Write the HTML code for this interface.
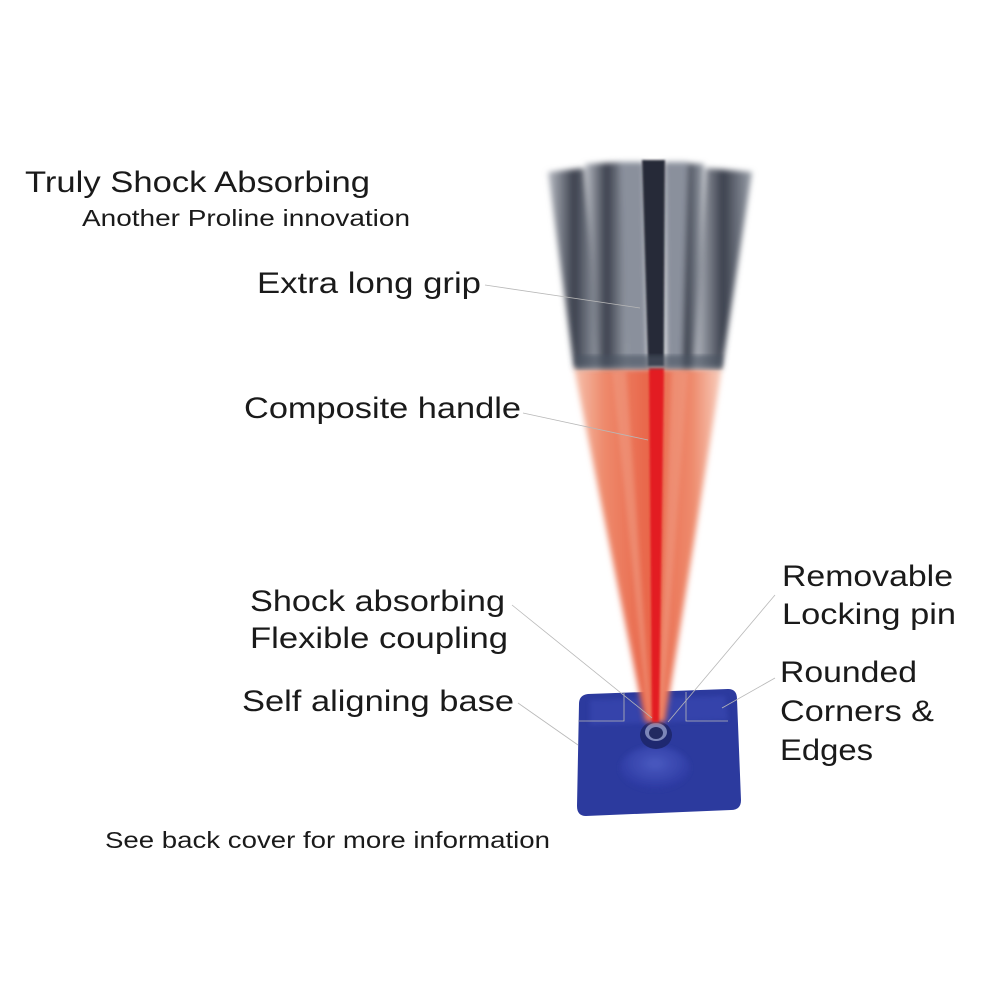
<!DOCTYPE html>
<html><head><meta charset="utf-8">
<style>
html,body{margin:0;padding:0;background:#fff;}
svg{display:block;}
text{font-family:"Liberation Sans",sans-serif;fill:#1a1a1a;}
</style></head>
<body>
<svg width="1000" height="1000" viewBox="0 0 1000 1000" xmlns="http://www.w3.org/2000/svg">
<defs>
<filter id="b3"><feGaussianBlur stdDeviation="3"/></filter>
<filter id="b2"><feGaussianBlur stdDeviation="2"/></filter>
<filter id="b1"><feGaussianBlur stdDeviation="1"/></filter>
<linearGradient id="grip" x1="0" x2="1">
<stop offset="0" stop-color="#b8bcc4"/><stop offset="0.5" stop-color="#3a3f4c"/><stop offset="1" stop-color="#9aa0aa"/>
</linearGradient>
<linearGradient id="cone" x1="0" x2="1">
<stop offset="0" stop-color="#f6c2ae"/><stop offset="0.2" stop-color="#ee8a6c"/><stop offset="0.5" stop-color="#e8664a"/><stop offset="0.8" stop-color="#ee8a6c"/><stop offset="1" stop-color="#f8d0c0"/>
</linearGradient>
<radialGradient id="cup" cx="0.5" cy="0.4" r="0.6">
<stop offset="0" stop-color="#4a5ac0"/><stop offset="1" stop-color="#2a37a0"/>
</radialGradient>
</defs>

<path d="M588,694 L728,689 Q737,689 737,699 L741,800 Q741,810 731,810 L586,816 Q577,816 577,806 L579,704 Q579,695 588,694 Z" fill="#2c3a9e"/>
<path d="M590,700 L725,696 L728,720 L590,725 Z" fill="#3a4ab4" opacity="0.6" filter="url(#b2)"/>
<ellipse cx="655" cy="768" rx="35" ry="22" fill="url(#cup)" filter="url(#b2)"/>
<ellipse cx="656" cy="735" rx="16" ry="14" fill="#1e2870"/>
<ellipse cx="656" cy="732" rx="11" ry="9" fill="#7c86b8"/>
<ellipse cx="656" cy="733" rx="7" ry="6" fill="#222a60"/>

<path d="M574,368 L722,368 L665,722 L645,722 Z" fill="url(#cone)" filter="url(#b3)"/>
<path d="M612,370 L626,370 L651,720 L648,720 Z" fill="#f09a80" opacity="0.6" filter="url(#b2)"/>
<path d="M672,370 L688,370 L662,720 L659,720 Z" fill="#f09a80" opacity="0.6" filter="url(#b2)"/>
<path d="M649,368 L664,368 L659,722 L652,722 Z" fill="#e31e24" filter="url(#b1)"/>

<g filter="url(#b3)">
<path d="M548,172 L584,168 L600,368 L574,368 Z" fill="url(#grip)"/>
<path d="M585,164 L622,162 L628,368 L598,368 Z" fill="url(#grip)"/>
<path d="M666,162 L704,164 L696,368 L668,368 Z" fill="url(#grip)"/>
<path d="M706,168 L752,172 L722,368 L694,368 Z" fill="url(#grip)"/>
<path d="M620,162 L644,162 L648,368 L628,368 Z" fill="#8a909c"/>
<path d="M664,162 L688,162 L682,368 L666,368 Z" fill="#8a909c"/>
</g>
<path d="M642,160 L665,160 L664,366 L648,366 Z" fill="#262c38" filter="url(#b1)"/>
<rect x="576" y="355" width="146" height="14" fill="#4c5464" opacity="0.6" filter="url(#b2)"/>

<g stroke="#b8b8b8" stroke-width="0.8" fill="none">
<line x1="485" y1="285" x2="640" y2="308"/>
<line x1="523" y1="413" x2="648" y2="440"/>
<line x1="512" y1="605" x2="652" y2="718"/>
<line x1="518" y1="703" x2="578" y2="745"/>
<line x1="775" y1="595" x2="668" y2="722"/>
<line x1="775" y1="678" x2="722" y2="708"/>
<polyline points="578,721 624,721 624,692"/>
<polyline points="686,692 686,721 728,721"/>
</g>

<g lengthAdjust="spacingAndGlyphs">
<text x="25" y="192" font-size="30" textLength="345" lengthAdjust="spacingAndGlyphs">Truly Shock Absorbing</text>
<text x="82" y="226" font-size="23" textLength="328" lengthAdjust="spacingAndGlyphs">Another Proline innovation</text>
<text x="257" y="293" font-size="30" textLength="224" lengthAdjust="spacingAndGlyphs">Extra long grip</text>
<text x="244" y="418" font-size="30" textLength="277" lengthAdjust="spacingAndGlyphs">Composite handle</text>
<text x="250" y="611" font-size="30" textLength="255" lengthAdjust="spacingAndGlyphs">Shock absorbing</text>
<text x="250" y="648" font-size="30" textLength="258" lengthAdjust="spacingAndGlyphs">Flexible coupling</text>
<text x="242" y="711" font-size="30" textLength="272" lengthAdjust="spacingAndGlyphs">Self aligning base</text>
<text x="782" y="586" font-size="30" textLength="171" lengthAdjust="spacingAndGlyphs">Removable</text>
<text x="782" y="624" font-size="30" textLength="174" lengthAdjust="spacingAndGlyphs">Locking pin</text>
<text x="780" y="682" font-size="30" textLength="137" lengthAdjust="spacingAndGlyphs">Rounded</text>
<text x="780" y="721" font-size="30" textLength="154" lengthAdjust="spacingAndGlyphs">Corners &amp;</text>
<text x="780" y="760" font-size="30" textLength="93" lengthAdjust="spacingAndGlyphs">Edges</text>
<text x="105" y="848" font-size="23" textLength="445" lengthAdjust="spacingAndGlyphs">See back cover for more information</text>
</g>
</svg>
</body></html>
